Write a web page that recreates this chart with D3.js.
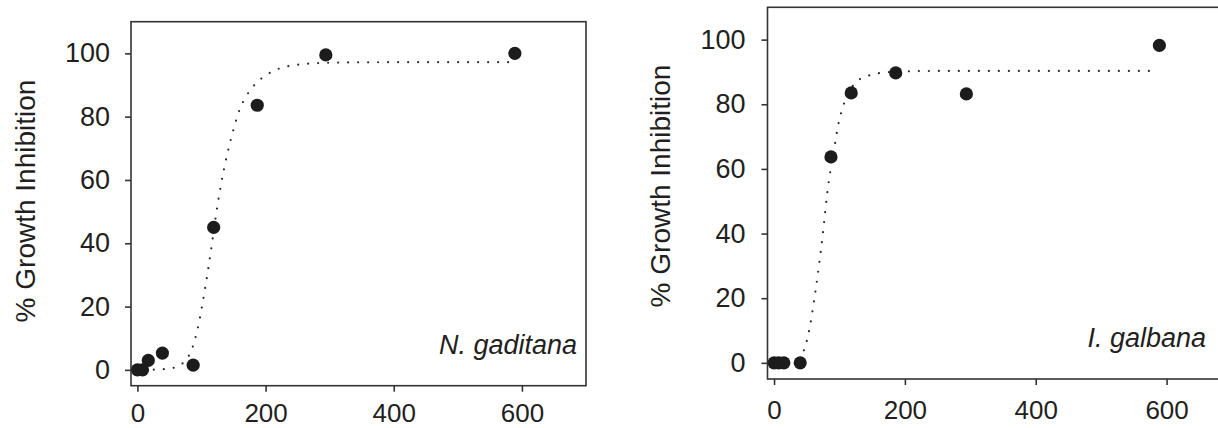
<!DOCTYPE html>
<html>
<head>
<meta charset="utf-8">
<script src="https://cdn.jsdelivr.net/npm/d3@7"></script>
<style>
  body { margin: 0; background: #fff; }
  svg text { font-family: "Liberation Sans", Arial, sans-serif; fill: #231f20; }
</style>
</head>
<body>
<script>
// tick labels shared by both panels
var xTicks = [0, 200, 400, 600];
var yTicks = [0, 20, 40, 60, 80, 100];

// N. gaditana - measured points
var gaditanaDose = [0, 8, 17, 39, 87, 119, 187, 294, 589];
var gaditanaInhib = [0, 0, 3, 5.3, 1.5, 45, 83.6, 99.5, 100];
// N. gaditana - fitted curve
var gaditanaFitX = [10, 30, 50, 65, 75, 85, 95, 105, 115, 122, 130, 140, 150, 160, 170, 185, 200, 215, 230, 250, 280, 320, 400, 500, 588];
var gaditanaFitY = [0, 0.1, 0.4, 1.3, 3, 6.5, 14, 25, 38, 48, 58, 68, 76, 82.5, 86.5, 90.5, 93, 94.7, 95.7, 96.4, 96.9, 97.1, 97.2, 97.2, 97.2];

// I. galbana - measured points
var galbanaDose = [0, 7, 15, 40, 87, 118, 186, 294, 589];
var galbanaInhib = [0, 0, 0, 0, 63.7, 83.5, 89.7, 83.2, 98.2];
// I. galbana - fitted curve
var galbanaFitX = [40, 44, 49, 55, 61, 67, 72, 76.5, 81, 87, 93, 98, 105, 114, 125, 140, 160, 190, 250, 400, 588];
var galbanaFitY = [1, 3, 6, 11.5, 19, 27.5, 35.5, 43.5, 52, 60.5, 67.5, 73.5, 79, 83.5, 86.8, 88.5, 89.6, 90.1, 90.3, 90.3, 90.3];

var svgWidth = 1218;
var svgHeight = 428;

var svg = d3.select("body")
  .append("svg")
  .attr("width", svgWidth)
  .attr("height", svgHeight);

// frame of each panel in pixels
var panels = [
  {
    name: "N. gaditana", dose: gaditanaDose, inhib: gaditanaInhib,
    fitX: gaditanaFitX, fitY: gaditanaFitY,
    left: 131, right: 586, top: 21.7, bottom: 385.7,
    titleX: 25, titleY: 201, labelX: 577, labelY: 354,
    yPad: 15, xPad: 12
  },
  {
    name: "I. galbana", dose: galbanaDose, inhib: galbanaInhib,
    fitX: galbanaFitX, fitY: galbanaFitY,
    left: 767.5, right: 1232, top: 7.3, bottom: 379,
    titleX: 660, titleY: 186, labelX: 1206, labelY: 346.7,
    yPad: 16, xPad: 16
  }
];

panels.forEach(function(p) {
  var x = d3.scaleLinear().domain([-10, 700]).range([p.left, p.right]);
  var y = d3.scaleLinear().domain([-5, 110]).range([p.bottom, p.top]);

  var g = svg.append("g");

  // dotted fit line
  var line = d3.line()
    .x(function(d) { return x(d[0]); })
    .y(function(d) { return y(d[1]); })
    .curve(d3.curveMonotoneX);

  g.append("path")
    .attr("d", line(d3.zip(p.fitX, p.fitY)))
    .attr("fill", "none")
    .attr("stroke", "#2a2a2a")
    .attr("stroke-width", 2.2)
    .attr("stroke-linecap", "round")
    .attr("stroke-dasharray", "0,10");

  // points
  g.selectAll("circle")
    .data(d3.zip(p.dose, p.inhib))
    .enter()
    .append("circle")
    .attr("cx", function(d) { return x(d[0]); })
    .attr("cy", function(d) { return y(d[1]); })
    .attr("r", 6.6)
    .attr("fill", "#1c1c1c");

  // frame
  g.append("rect")
    .attr("x", p.left)
    .attr("y", p.top)
    .attr("width", p.right - p.left)
    .attr("height", p.bottom - p.top)
    .attr("fill", "none")
    .attr("stroke", "#333")
    .attr("stroke-width", 1.6);

  var leftAxis = d3.axisLeft(y).tickValues(yTicks).tickSize(6).tickPadding(p.yPad).tickSizeOuter(0);
  var bottomAxis = d3.axisBottom(x).tickValues(xTicks).tickSize(6).tickPadding(p.xPad).tickSizeOuter(0);

  var ya = g.append("g")
    .attr("transform", "translate(" + p.left + ",0)")
    .call(leftAxis);
  var xa = g.append("g")
    .attr("transform", "translate(0," + p.bottom + ")")
    .call(bottomAxis);

  [ya, xa].forEach(function(a) {
    a.select(".domain").remove();
    a.attr("font-family", null).attr("font-size", 27);
    a.selectAll("line").attr("stroke", "#333").attr("stroke-width", 1.6);
  });
  xa.attr("font-size", 26);

  // y axis title
  g.append("text")
    .attr("transform", "translate(" + p.titleX + "," + p.titleY + ") rotate(-90)")
    .attr("text-anchor", "middle")
    .attr("dy", "0.35em")
    .attr("font-size", 28)
    .text("% Growth Inhibition");

  // species label
  g.append("text")
    .attr("x", p.labelX)
    .attr("y", p.labelY)
    .attr("text-anchor", "end")
    .attr("font-style", "italic")
    .attr("font-size", 27)
    .text(p.name);
});
</script>
</body>
</html>
